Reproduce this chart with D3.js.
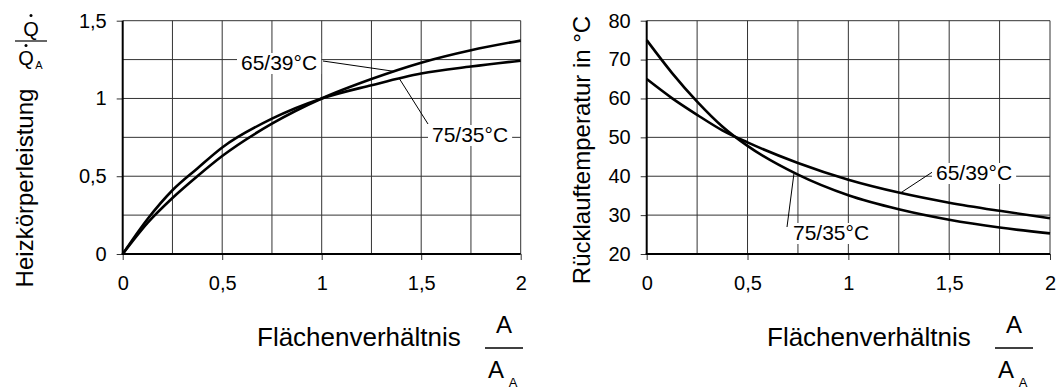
<!DOCTYPE html>
<html>
<head>
<meta charset="utf-8">
<script src="https://cdn.jsdelivr.net/npm/d3@7"></script>
<style>
  body{margin:0;background:#fff}
  svg{display:block}
  text{font-family:"Liberation Sans",Arial,Helvetica,sans-serif;fill:#000}
</style>
</head>
<body>
<svg id="chart" width="1058" height="389"></svg>
<script>
// Flächenverhältnis A/A_A (x-Werte, gemeinsam für beide Diagramme)
const flaeche = [0, 0.125, 0.25, 0.375, 0.5, 0.75, 1, 1.25, 1.5, 1.75, 2]

// links: Heizkörperleistung Q/Q_A
const leistung75_35 = [0, 0.225, 0.41, 0.55, 0.685, 0.87, 1, 1.085, 1.16, 1.205, 1.243]
const leistung65_39 = [0, 0.2, 0.36, 0.5, 0.63, 0.838, 1, 1.125, 1.23, 1.31, 1.372]

// rechts: Rücklauftemperatur in °C
const ruecklauf75_35 = [75, 66.6, 59.2, 52.8, 47.8, 40.4, 35.1, 31.5, 28.8, 26.8, 25.3]
const ruecklauf65_39 = [65, 60.1, 55.8, 51.8, 48.7, 43.4, 39.1, 35.8, 33.2, 31.1, 29.2]

// Achsen / Ticks
const xTicks = [0, 0.5, 1, 1.5, 2]
const xGrid = [0.25, 0.5, 0.75, 1, 1.25, 1.5, 1.75, 2]
const leistungTicks = [0, 0.5, 1, 1.5]
const leistungGrid = [0.25, 0.5, 0.75, 1, 1.25, 1.5]
const tempTicks = [20, 30, 40, 50, 60, 70, 80]
const seriesNames = ['75/35°C', '65/39°C']

const de = d3.formatLocale({decimal: ',', thousands: '.', grouping: [3], currency: ['', ' €']})
const fmt = de.format('~g')

const svg = d3.select('#chart')

function panel(cfg){
  const x = d3.scaleLinear().domain([0, 2]).range([cfg.left, cfg.right])
  const y = d3.scaleLinear().domain(cfg.yDomain).range([254, 20.7])
  const g = svg.append('g')

  // Gitter
  g.append('g').selectAll('line').data(xGrid).enter().append('line')
    .attr('x1', d=>x(d)).attr('x2', d=>x(d)).attr('y1', y.range()[0]).attr('y2', y.range()[1])
    .attr('stroke', '#333').attr('stroke-width', 1)
  g.append('g').selectAll('line').data(cfg.yGrid).enter().append('line')
    .attr('x1', cfg.left).attr('x2', cfg.right).attr('y1', d=>y(d)).attr('y2', d=>y(d))
    .attr('stroke', '#333').attr('stroke-width', 1)

  // Achsen
  const ax = g.append('g').attr('transform', `translate(0,${y.range()[0]})`)
    .call(d3.axisBottom(x).tickValues(xTicks).tickSize(6).tickPadding(15).tickFormat(fmt))
  const ay = g.append('g').attr('transform', `translate(${cfg.left},0)`)
    .call(d3.axisLeft(y).tickValues(cfg.yTicks).tickSize(6).tickPadding(10).tickFormat(fmt))
  ;[ax, ay].forEach(a=>{
    a.select('.domain').remove()
    a.selectAll('line').attr('stroke', '#333')
    a.selectAll('text').attr('font-size', 20).attr('font-family', '"Liberation Sans",Arial,sans-serif')
  })
  ax.selectAll('text').attr('dy', '0.75em')
  g.append('line').attr('x1', cfg.left).attr('x2', cfg.left).attr('y1', y.range()[0]).attr('y2', y.range()[1])
    .attr('stroke', '#000').attr('stroke-width', 2)
  g.append('line').attr('x1', cfg.left - 1).attr('x2', cfg.right).attr('y1', y.range()[0]).attr('y2', y.range()[0])
    .attr('stroke', '#000').attr('stroke-width', 2)

  // Kurven
  const line = d3.line().x((d,i)=>x(flaeche[i])).y(d=>y(d)).curve(d3.curveMonotoneX)
  g.append('g').selectAll('path').data(cfg.series).enter().append('path')
    .attr('d', d=>line(d)).attr('fill', 'none').attr('stroke', '#000').attr('stroke-width', 2.6)

  // Beschriftungen mit Hinweislinie
  cfg.labels.forEach(l=>{
    g.append('line').attr('x1', l.tx).attr('y1', l.ty)
      .attr('x2', x(l.at[0])).attr('y2', y(l.at[1])).attr('stroke', '#000').attr('stroke-width', 1)
    const t = g.append('text').attr('x', l.x).attr('y', l.y).attr('font-size', 21).text(l.text)
    const b = t.node().getBBox()
    g.insert('rect', function(){ return t.node() })
      .attr('x', b.x - 4).attr('y', b.y + 2).attr('width', b.width + 8).attr('height', b.height - 2)
      .attr('fill', '#fff')
  })

  // x-Titel mit Bruch A / A_A
  const xt = svg.append('g')
  xt.append('text').attr('x', cfg.xTitleX).attr('y', 346).attr('font-size', 26).text('Flächenverhältnis')
  xt.append('text').attr('x', cfg.fracX + 9).attr('y', 333).attr('text-anchor', 'middle').attr('font-size', 24).text('A')
  xt.append('line').attr('x1', cfg.fracX - 10).attr('x2', cfg.fracX + 28).attr('y1', 348).attr('y2', 348)
    .attr('stroke', '#000').attr('stroke-width', 1.5)
  xt.append('text').attr('x', cfg.fracX + 1).attr('y', 378).attr('text-anchor', 'middle').attr('font-size', 24).text('A')
  xt.append('text').attr('x', cfg.fracX + 18).attr('y', 387).attr('text-anchor', 'middle').attr('font-size', 13).text('A')

  return {x, y}
}

panel({
  left: 122.7, right: 520.7, yDomain: [0, 1.5],
  yTicks: leistungTicks, yGrid: leistungGrid,
  series: [leistung75_35, leistung65_39],
  labels: [
    {text: seriesNames[1], x: 241, y: 70, tx: 323, ty: 61, at: [1.36, 1.175]},
    {text: seriesNames[0], x: 432, y: 142, tx: 428, ty: 124, at: [1.39, 1.128]}
  ],
  xTitleX: 257, fracX: 495
})

panel({
  left: 646.7, right: 1050, yDomain: [20, 80],
  yTicks: tempTicks, yGrid: tempTicks.slice(1),
  series: [ruecklauf75_35, ruecklauf65_39],
  labels: [
    {text: seriesNames[1], x: 936, y: 180, tx: 937, ty: 169, at: [1.256, 35.6]},
    {text: seriesNames[0], x: 793, y: 240, tx: 787, ty: 227, at: [0.73, 40.6]}
  ],
  xTitleX: 767, fracX: 1005
})

// y-Titel links mit Q̇ / Q̇_A
svg.append('text').attr('transform', 'translate(33,188) rotate(-90)').attr('text-anchor', 'middle')
  .attr('font-size', 24).text('Heizkörperleistung')
const fr = svg.append('g')
fr.append('text').attr('x', 31).attr('y', 36).attr('text-anchor', 'middle').attr('font-size', 20).text('Q')
fr.append('circle').attr('cx', 31).attr('cy', 15.5).attr('r', 1.5).attr('fill', '#000')
fr.append('line').attr('x1', 15).attr('x2', 47).attr('y1', 41).attr('y2', 41).attr('stroke', '#000').attr('stroke-width', 1.2)
fr.append('text').attr('x', 26).attr('y', 65).attr('text-anchor', 'middle').attr('font-size', 20).text('Q')
fr.append('circle').attr('cx', 26).attr('cy', 45.5).attr('r', 1.5).attr('fill', '#000')
fr.append('text').attr('x', 39).attr('y', 69).attr('text-anchor', 'middle').attr('font-size', 11).text('A')

// y-Titel rechts
svg.append('text').attr('transform', 'translate(590,150) rotate(-90)').attr('text-anchor', 'middle')
  .attr('font-size', 24).text('Rücklauftemperatur in °C')
</script>
</body>
</html>
